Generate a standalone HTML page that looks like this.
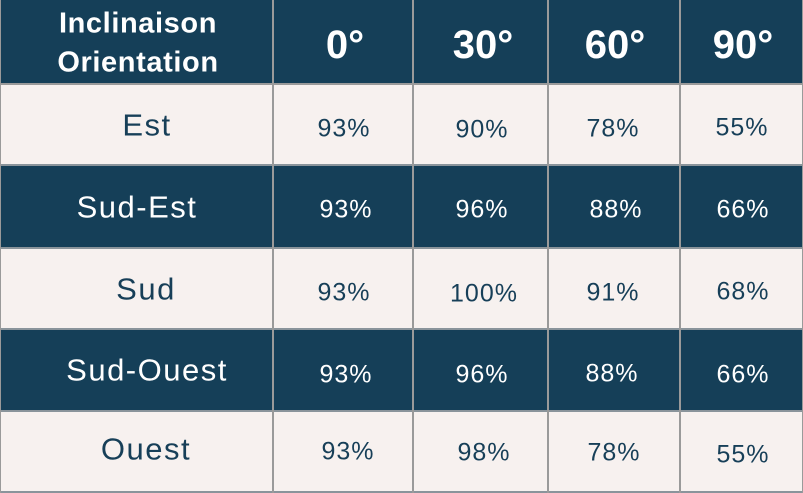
<!DOCTYPE html>
<html><head><meta charset="utf-8"><style>
body{margin:0;width:803px;height:493px;overflow:hidden;background:#9a9a9a;font-family:"Liberation Sans",sans-serif}
.bg{position:absolute;left:0;width:803px}
.d{background:#153f58}.l{background:#f7f1ef}
.v{position:absolute;top:0;width:2px;height:493px;background:#9a9a9a}
.h{position:absolute;left:0;width:803px;height:2px;background:#8a949b}
.t{position:absolute;transform:translate(-50%,-50%);white-space:nowrap;line-height:1}
.w{color:#fff}.k{color:#173f58}
.hd{font-weight:bold;font-size:40px}
.hl{font-weight:bold;font-size:29px;letter-spacing:0.6px}
.rl{font-size:31px;letter-spacing:1.5px}
.n{font-size:25px;letter-spacing:1px}
</style></head><body>
<div class="bg d" style="top:0;height:83px"></div>
<div class="bg l" style="top:83px;height:82px"></div>
<div class="bg d" style="top:165px;height:83px"></div>
<div class="bg l" style="top:248px;height:81px"></div>
<div class="bg d" style="top:329px;height:82px"></div>
<div class="bg l" style="top:411px;height:80px"></div>
<div class="h" style="top:83px;background:#9a9a9a"></div>
<div class="h" style="top:164px"></div>
<div class="h" style="top:247px"></div>
<div class="h" style="top:328px"></div>
<div class="h" style="top:410px"></div>
<div class="h" style="top:491px"></div>
<div class="v" style="left:0;width:1px"></div>
<div class="v" style="left:272px"></div>
<div class="v" style="left:412px"></div>
<div class="v" style="left:547px"></div>
<div class="v" style="left:679px"></div>
<div class="v" style="left:802px;width:1px"></div>

<div class="t w hl" style="left:138px;top:24px">Inclinaison</div>
<div class="t w hl" style="left:138px;top:63px">Orientation</div>
<div class="t w hd" style="left:345px;top:45px">0°</div>
<div class="t w hd" style="left:483px;top:45px">30°</div>
<div class="t w hd" style="left:615px;top:45px">60°</div>
<div class="t w hd" style="left:743px;top:45px">90°</div>

<div class="t k rl" style="left:147px;top:125px">Est</div>
<div class="t w rl" style="left:137px;top:207px">Sud-Est</div>
<div class="t k rl" style="left:146px;top:289px">Sud</div>
<div class="t w rl" style="left:147px;top:370px">Sud-Ouest</div>
<div class="t k rl" style="left:146px;top:449px">Ouest</div>

<div class="t k n" style="left:344px;top:129px">93%</div>
<div class="t k n" style="left:482px;top:130px">90%</div>
<div class="t k n" style="left:613px;top:129px">78%</div>
<div class="t k n" style="left:742px;top:128px">55%</div>

<div class="t w n" style="left:346px;top:210px">93%</div>
<div class="t w n" style="left:482px;top:210px">96%</div>
<div class="t w n" style="left:616px;top:210px">88%</div>
<div class="t w n" style="left:743px;top:210px">66%</div>

<div class="t k n" style="left:344px;top:293px">93%</div>
<div class="t k n" style="left:484px;top:294px">100%</div>
<div class="t k n" style="left:613px;top:293px">91%</div>
<div class="t k n" style="left:743px;top:292px">68%</div>

<div class="t w n" style="left:346px;top:375px">93%</div>
<div class="t w n" style="left:482px;top:375px">96%</div>
<div class="t w n" style="left:612px;top:374px">88%</div>
<div class="t w n" style="left:743px;top:375px">66%</div>

<div class="t k n" style="left:348px;top:452px">93%</div>
<div class="t k n" style="left:484px;top:453px">98%</div>
<div class="t k n" style="left:614px;top:453px">78%</div>
<div class="t k n" style="left:743px;top:455px">55%</div>
</body></html>
